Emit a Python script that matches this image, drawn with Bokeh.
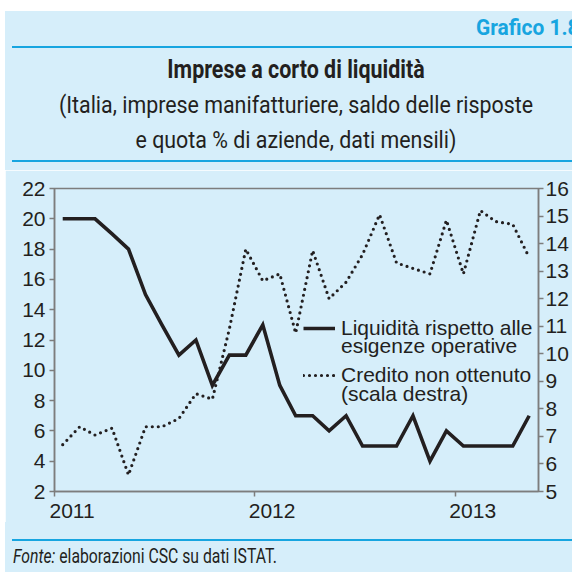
import pandas as pd
from datetime import datetime
from bokeh.plotting import figure
from bokeh.models import (Range1d, LinearAxis, FixedTicker, ColumnDataSource, Legend,
                          LegendItem, Div, Spacer, DatetimeTickFormatter)
from bokeh.layouts import column, row
from bokeh.embed import file_html
from bokeh.resources import INLINE

# ---------------- data ----------------
months = list(pd.date_range("2011-01-01", periods=29, freq="MS"))
liquidita = [20, 20, 20, 19, 18, 15, 13, 11, 12, 9, 11, 11,
             13, 9, 7, 7, 6, 7, 5, 5, 5, 7, 4, 6,
             5, 5, 5, 5, 7]
credito = [6.7, 7.35, 7.05, 7.3, 5.6, 7.35, 7.35, 7.65, 8.55, 8.35, 10.9, 13.8,
           12.65, 12.9, 10.75, 13.75, 12.0, 12.6, 13.6, 15.05, 13.3, 13.1, 12.9, 14.85,
           12.9, 15.2, 14.8, 14.7, 13.5]
left_ticks = [2, 4, 6, 8, 10, 12, 14, 16, 18, 20, 22]
right_ticks = [5, 6, 7, 8, 9, 10, 11, 12, 13, 14, 15, 16]
year_labels = ["2011", "2012", "2013"]
leg_liq = ["Liquidità rispetto alle", "esigenze operative"]
leg_cred = ["Credito non ottenuto", "(scala destra)"]
title = "Imprese a corto di liquidità"
subtitle1 = "(Italia, imprese manifatturiere, saldo delle risposte"
subtitle2 = "e quota % di aziende, dati mensili)"
grafico = "Grafico 1.8"
fonte_it = "Fonte:"
fonte_txt = "elaborazioni CSC su dati ISTAT."

BG = "#D6EEFA"
CYAN = "#17A5E0"
TXT = "#231F20"
AX = "#7D7D7D"
SANS = "Liberation Sans"
W = 567

x_mid = [m + pd.Timedelta(days=15) for m in months]
src = ColumnDataSource(dict(x=x_mid, liq=liquidita, cred=credito))
year_starts = [pd.Timestamp(f"{y}-01-01").value / 1e6 for y in year_labels]
label_pos = [(pd.Timestamp(f"{y}-01-01") + pd.Timedelta(days=32)).value / 1e6 for y in year_labels]


def txt(s, left, base, size, scale=1.0, weight="normal", color=TXT, center=False, style="normal"):
    top = base - 0.8418 * size
    if center:
        tr = f"translateX(-50%) scaleX({scale})"
        origin = "center"
    else:
        tr = f"scaleX({scale})"
        origin = "left"
    return (f'<div style="position:absolute;left:{left}px;top:{top:.1f}px;white-space:nowrap;'
            f'font-family:Roboto;font-size:{size}px;line-height:1;font-weight:{weight};'
            f'font-style:{style};color:{color};transform:{tr};transform-origin:{origin};">{s}</div>')


def hline(y, left, width, thick=2):
    return (f'<div style="position:absolute;left:{left}px;top:{y - thick / 2:.1f}px;'
            f'width:{width}px;height:{thick}px;background:{CYAN};"></div>')


# ---------------- header ----------------
HH = 170
header_html = (
    f'<div style="position:relative;width:{W}px;height:{HH}px;overflow:hidden;background:white;">'
    f'<div style="position:absolute;left:0;top:11px;width:{W}px;height:{HH - 11}px;background:{BG};"></div>'
    + txt(grafico, 471, 35, 22.5, scale=0.93, weight="bold", color=CYAN)
    + hline(46.7, 7.3, W)
    + txt(title, 291, 78, 25.5, scale=0.84, weight="bold", center=True)
    + txt(subtitle1, 291, 113.3, 23.5, scale=0.91, center=True)
    + txt(subtitle2, 291, 148.3, 23.5, scale=0.91, center=True)
    + hline(161, 7.3, W)
    + '</div>'
)
header = Div(text=header_html, width=W, height=HH, margin=0)

# ---------------- main chart ----------------
p = figure(width=W, height=352, x_axis_type="datetime",
           x_range=Range1d(datetime(2011, 1, 1), datetime(2013, 6, 2)),
           y_range=Range1d(2, 22), min_border_left=49, min_border_right=34,
           min_border_top=18, min_border_bottom=31,
           toolbar_location=None, output_backend="svg")
p.background_fill_color = BG
p.border_fill_color = BG
p.outline_line_color = AX
p.outline_line_width = 1.5
p.grid.visible = False
p.extra_y_ranges = {"right": Range1d(5, 16)}

r1 = p.line(x="x", y="liq", source=src, line_width=3.6, line_color=TXT, line_join="miter")
r2 = p.line(x="x", y="cred", source=src, y_range_name="right", line_width=3.2,
            line_color=TXT, line_dash="0 6", line_cap="round")

ax_r = LinearAxis(y_range_name="right", ticker=FixedTicker(ticks=right_ticks))
p.add_layout(ax_r, "right")
p.yaxis[0].ticker = FixedTicker(ticks=left_ticks)
xa = p.xaxis[0]
xa.ticker = FixedTicker(ticks=label_pos, minor_ticks=year_starts)
xa.formatter = DatetimeTickFormatter(years="%Y", months="%Y", days="%Y", hours="%Y",
                                     minutes="%Y", seconds="%Y", milliseconds="%Y")
for ax in [xa, p.yaxis[0], ax_r]:
    ax.axis_line_color = AX
    ax.axis_line_width = 1.5
    ax.major_tick_line_color = AX
    ax.major_tick_line_width = 1.5
    ax.major_tick_in = 0
    ax.major_tick_out = 5
    ax.minor_tick_line_color = None
    ax.major_label_text_color = TXT
    ax.major_label_text_font = SANS
    ax.major_label_text_font_size = "21px"
xa.major_tick_line_color = None
xa.major_tick_out = 0
xa.minor_tick_line_color = AX
xa.minor_tick_line_width = 1.5
xa.minor_tick_in = 0
xa.minor_tick_out = 5
xa.major_label_standoff = 7
p.yaxis[0].major_label_standoff = 4
ax_r.major_label_standoff = 2


def make_legend(label, rends, bottom):
    return Legend(items=[LegendItem(label=label, renderers=rends)], location=(249, bottom),
                  padding=0, margin=0, spacing=0,
                  glyph_width=32, glyph_height=24, label_height=30, label_standoff=6,
                  label_text_font=SANS, label_text_font_size="21px", label_text_color=TXT,
                  border_line_color=None, background_fill_alpha=0)


p.add_layout(make_legend(leg_liq[0], [r1], 148.5), "center")
p.add_layout(make_legend(leg_liq[1], [], 130.2), "center")
p.add_layout(make_legend(leg_cred[0], [r2], 100.8), "center")
p.add_layout(make_legend(leg_cred[1], [], 82.5), "center")

# ---------------- footer ----------------
FH = 50
footer_html = (
    f'<div style="position:relative;width:{W}px;height:{FH}px;overflow:hidden;background:{BG};">'
    + hline(18, 7.3, W)
    + txt(f'<i>{fonte_it}</i> {fonte_txt}', 7.7, 41.3, 19.7, scale=0.8)
    + '</div>'
)
footer = Div(text=footer_html, width=W, height=FH, margin=0)

layout = row(Spacer(width=5, height=572, margin=0),
             column(header, p, footer, spacing=0, margin=0), spacing=0, margin=0)
open("out.html", "w").write(file_html(layout, INLINE))
